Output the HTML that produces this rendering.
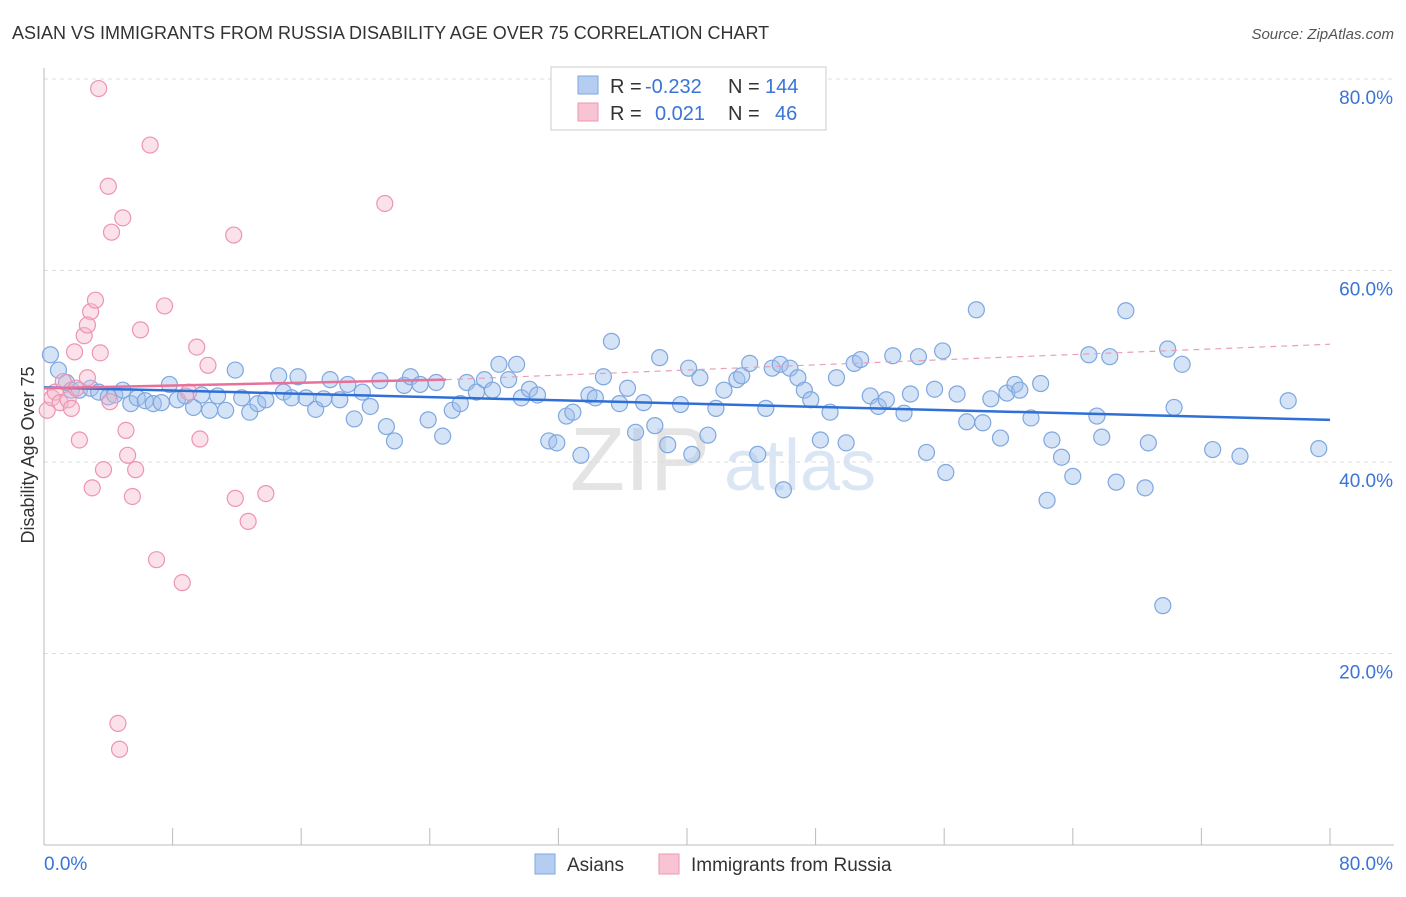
<!DOCTYPE html>
<html><head><meta charset="utf-8"><style>
body{margin:0;background:#fff;font-family:"Liberation Sans",sans-serif;}
svg text{font-family:"Liberation Sans",sans-serif;}
</style></head><body>
<svg width="1406" height="892" xmlns="http://www.w3.org/2000/svg">
<text x="12" y="39" font-size="18" fill="#333">ASIAN VS IMMIGRANTS FROM RUSSIA DISABILITY AGE OVER 75 CORRELATION CHART</text>
<text x="1394" y="39" font-size="15" fill="#555" font-style="italic" text-anchor="end">Source: ZipAtlas.com</text>
<text x="34" y="455" font-size="18" fill="#333" text-anchor="middle" transform="rotate(-90 34 455)">Disability Age Over 75</text>
<g><text x="640" y="490" font-size="90" fill="#e4e4e4" font-family="Liberation Serif" text-anchor="middle">ZIP</text><text x="800" y="490" font-size="72" fill="#dbe6f5" text-anchor="middle">atlas</text></g>
<g id="grid"></g><g id="axes"></g><g id="marks"></g>
<g>
<rect x="551" y="67" width="275" height="63" fill="#fff" stroke="#ccc"/>
<rect x="578" y="76" width="20" height="18" fill="#b5cdf0" stroke="#7fa7e0"/>
<rect x="578" y="103" width="20" height="18" fill="#f8c4d4" stroke="#ee94b0"/>
<text x="610" y="93" font-size="20" fill="#333">R =</text>
<text x="645" y="93" font-size="20" fill="#3a74d6">-0.232</text>
<text x="728" y="93" font-size="20" fill="#333">N =</text>
<text x="765" y="93" font-size="20" fill="#3a74d6">144</text>
<text x="610" y="120" font-size="20" fill="#333">R =</text>
<text x="655" y="120" font-size="20" fill="#3a74d6">0.021</text>
<text x="728" y="120" font-size="20" fill="#333">N =</text>
<text x="775" y="120" font-size="20" fill="#3a74d6">46</text>
</g>
<g>
<rect x="535" y="854" width="20" height="20" fill="#b5cdf0" stroke="#7fa7e0"/>
<text x="567" y="871" font-size="19" fill="#333">Asians</text>
<rect x="659" y="854" width="20" height="20" fill="#f8c4d4" stroke="#ee94b0"/>
<text x="691" y="871" font-size="19" fill="#333">Immigrants from Russia</text>
</g>
</svg>
<script>
const yTicks=[20,40,60,80];
const yTickLabels=["20.0%","40.0%","60.0%","80.0%"];
const xLabels=["0.0%","80.0%"];
const asianX=[0.4,0.9,1.4,1.7,2.2,2.9,3.4,4.0,4.4,4.9,5.4,5.8,6.3,6.8,7.3,7.8,8.3,8.8,9.3,9.8,10.3,10.8,11.3,11.9,12.3,12.8,13.3,13.8,14.6,14.9,15.4,15.8,16.3,16.9,17.4,17.8,18.4,18.9,19.3,19.8,20.3,20.9,21.3,21.8,22.4,22.8,23.4,23.9,24.4,24.8,25.4,25.9,26.3,26.9,27.4,27.9,28.3,28.9,29.4,29.7,30.2,30.7,31.4,31.9,32.5,32.9,33.4,33.9,34.3,34.8,35.3,35.8,36.3,36.8,37.3,38.0,38.3,38.8,39.6,40.1,40.3,40.8,41.3,41.8,42.3,43.1,43.4,43.9,44.4,44.9,45.3,45.8,46.0,46.4,46.9,47.3,47.7,48.3,48.9,49.3,49.9,50.4,50.8,51.4,51.9,52.4,52.8,53.5,53.9,54.4,54.9,55.4,55.9,56.1,56.8,57.4,58.0,58.4,58.9,59.5,59.9,60.4,60.7,61.4,62.0,62.4,62.7,63.3,64.0,65.0,65.5,65.8,66.3,66.7,67.3,68.5,68.7,69.6,69.9,70.3,70.8,72.7,74.4,77.4,79.3];
const asianY=[51.2,49.6,48.3,47.5,47.5,47.7,47.3,46.8,47.0,47.5,46.1,46.7,46.4,46.1,46.2,48.1,46.5,46.9,45.7,47.0,45.4,46.9,45.4,49.6,46.7,45.2,46.1,46.5,49.0,47.3,46.7,48.9,46.7,45.5,46.6,48.6,46.5,48.1,44.5,47.3,45.8,48.5,43.7,42.2,48.0,48.9,48.1,44.4,48.3,42.7,45.4,46.1,48.3,47.3,48.6,47.5,50.2,48.6,50.2,46.7,47.6,47.0,42.2,42.0,44.8,45.2,40.7,47.0,46.7,48.9,52.6,46.1,47.7,43.1,46.2,43.8,50.9,41.8,46.0,49.8,40.8,48.8,42.8,45.6,47.5,48.6,49.0,50.3,40.8,45.6,49.8,50.2,37.1,49.8,48.8,47.5,46.5,42.3,45.2,48.8,42.0,50.3,50.7,46.9,45.8,46.5,51.1,45.1,47.1,51.0,41.0,47.6,51.6,38.9,47.1,44.2,55.9,44.1,46.6,42.5,47.2,48.1,47.5,44.6,48.2,36.0,42.3,40.5,38.5,51.2,44.8,42.6,51.0,37.9,55.8,37.3,42.0,25.0,51.8,45.7,50.2,41.3,40.6,46.4,41.4];
const rusX=[0.2,0.5,0.7,1.0,1.2,1.5,1.7,2.0,2.2,2.5,2.7,2.9,3.0,3.2,3.4,3.5,3.7,4.0,4.1,4.2,4.6,4.7,4.9,5.1,5.2,5.5,5.7,6.0,6.6,7.0,7.5,8.6,9.0,9.5,9.7,10.2,11.8,11.9,12.7,13.8,21.2,2.7,1.9];
const rusY=[45.4,46.7,47.3,46.2,48.4,46.5,45.6,47.7,42.3,53.2,48.8,55.7,37.3,56.9,79.0,51.4,39.2,68.8,46.3,64.0,12.7,10.0,65.5,43.3,40.7,36.4,39.2,53.8,73.1,29.8,56.3,27.4,47.3,52.0,42.4,50.1,63.7,36.2,33.8,36.7,67.0,54.3,51.5];
const asianTrend=[[0,47.8],[80,44.4]];
const rusTrendSolid=[[0,47.7],[25,48.6]];
const rusTrendDash=[[25,48.6],[80,52.3]];
const NS="http://www.w3.org/2000/svg";
const X=v=>44+v*16.075, Y=v=>845-v*9.575;
function mk(p,t,a){const e=document.createElementNS(NS,t);for(const k in a)e.setAttribute(k,a[k]);document.getElementById(p).appendChild(e);return e;}
yTicks.forEach((t,i)=>{
 const g=mk('grid','line',{x1:44,x2:1394,y1:Y(t),y2:Y(t),stroke:'#ddd','stroke-dasharray':'4,4'});
 
 
 const l=mk('axes','text',{x:1393,y:Y(t)+25,'font-size':19,fill:'#3a74d6','text-anchor':'end'});l.textContent=yTickLabels[i];
 
 
});
const topLine=mk('grid','line',{x1:44,x2:1394,y1:Y(80),y2:Y(80),stroke:'#ddd','stroke-dasharray':'4,4'});

mk('axes','line',{x1:44,x2:44,y1:68,y2:845,stroke:'#bbb'});
mk('axes','line',{x1:44,x2:1394,y1:845,y2:845,stroke:'#bbb'});
for(let i=0;i<=10;i++){const t=mk('axes','line',{x1:X(i*8),x2:X(i*8),y1:828,y2:845,stroke:'#bbb'});
 
 }
const xl0=mk('axes','text',{x:44,y:870,'font-size':19,fill:'#3a74d6'});xl0.textContent=xLabels[0];


const xl1=mk('axes','text',{x:1393,y:870,'font-size':19,fill:'#3a74d6','text-anchor':'end'});xl1.textContent=xLabels[1];


asianX.forEach((v,i)=>{if(asianY[i]===undefined)return;const c=mk('marks','circle',{cx:X(v),cy:Y(asianY[i]),r:8,fill:'rgba(160,192,236,0.45)',stroke:'#7fa7e0','stroke-width':1.2});
 
 });
rusX.forEach((v,i)=>{if(rusY[i]===undefined)return;const c=mk('marks','circle',{cx:X(v),cy:Y(rusY[i]),r:8,fill:'rgba(246,182,202,0.4)',stroke:'#ee94b0','stroke-width':1.2});
 
 });
const tl=mk('marks','line',{x1:X(asianTrend[0][0]),y1:Y(asianTrend[0][1]),x2:X(asianTrend[1][0]),y2:Y(asianTrend[1][1]),stroke:'#2f6fd6','stroke-width':2.5});


const rs=mk('marks','line',{x1:X(rusTrendSolid[0][0]),y1:Y(rusTrendSolid[0][1]),x2:X(rusTrendSolid[1][0]),y2:Y(rusTrendSolid[1][1]),stroke:'#e8709a','stroke-width':2.5});


const rd=mk('marks','line',{x1:X(rusTrendDash[0][0]),y1:Y(rusTrendDash[0][1]),x2:X(rusTrendDash[1][0]),y2:Y(rusTrendDash[1][1]),stroke:'#e8a0b8','stroke-width':1.2,'stroke-dasharray':'6,5'});


</script>
</body></html>
